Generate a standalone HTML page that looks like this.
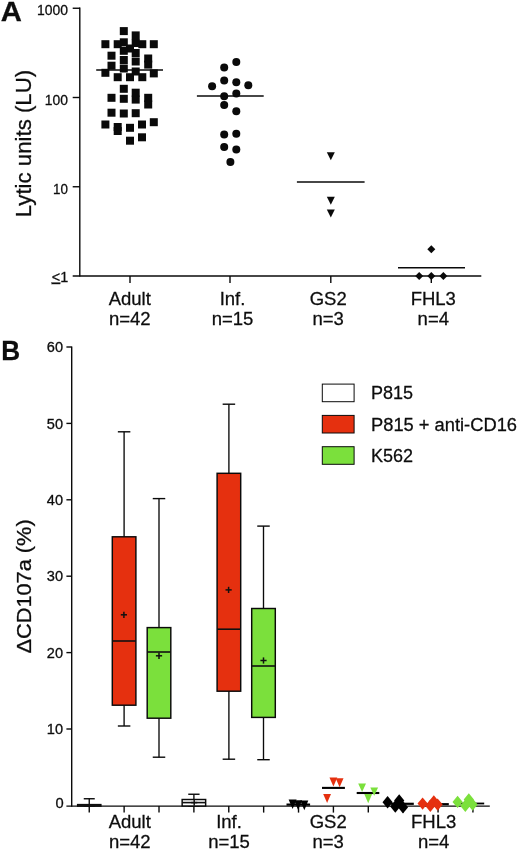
<!DOCTYPE html>
<html lang="en"><head><meta charset="utf-8"><title>Figure</title>
<style>
html,body{margin:0;padding:0;background:#fff;}
svg{display:block;font-family:"Liberation Sans", Arial, Helvetica, sans-serif;fill:#0d0d0d;will-change:transform;}
text{stroke:#0d0d0d;stroke-width:0.28px;}
</style></head>
<body>
<svg width="520" height="852" viewBox="0 0 520 852">
<rect x="0" y="0" width="520" height="852" fill="#ffffff"/>
<text transform="translate(0.7,21.4) scale(1.06,1)" font-size="27.6" font-weight="bold">A</text>
<line x1="79.8" y1="7.6" x2="79.8" y2="276.6" stroke="#0a0a0a" stroke-width="1.4"/>
<line x1="72.7" y1="276.0" x2="481.3" y2="276.0" stroke="#0a0a0a" stroke-width="1.4"/>
<line x1="72.7" y1="8.25" x2="80" y2="8.25" stroke="#0a0a0a" stroke-width="1.4"/>
<line x1="72.7" y1="97.5" x2="80" y2="97.5" stroke="#0a0a0a" stroke-width="1.4"/>
<line x1="72.7" y1="186.75" x2="80" y2="186.75" stroke="#0a0a0a" stroke-width="1.4"/>
<line x1="130" y1="276.0" x2="130" y2="283.0" stroke="#0a0a0a" stroke-width="1.4"/>
<line x1="230" y1="276.0" x2="230" y2="283.0" stroke="#0a0a0a" stroke-width="1.4"/>
<line x1="330.8" y1="276.0" x2="330.8" y2="283.0" stroke="#0a0a0a" stroke-width="1.4"/>
<line x1="431.3" y1="276.0" x2="431.3" y2="283.0" stroke="#0a0a0a" stroke-width="1.4"/>
<text x="68.0" y="15.2" font-size="14.4" text-anchor="end" font-weight="normal" textLength="31.0" lengthAdjust="spacingAndGlyphs">1000</text>
<text x="68.0" y="105.1" font-size="14.4" text-anchor="end" font-weight="normal" textLength="23.2" lengthAdjust="spacingAndGlyphs">100</text>
<text x="68.0" y="193.5" font-size="14.4" text-anchor="end" font-weight="normal" textLength="14.9" lengthAdjust="spacingAndGlyphs">10</text>
<text x="68.2" y="281.6" font-size="14.4" text-anchor="end"><tspan text-decoration="underline">&lt;</tspan>1</text>
<text transform="translate(30.6,217.2) rotate(-90)" font-size="21.3" textLength="147.3" lengthAdjust="spacingAndGlyphs">Lytic units (LU)</text>
<text x="129.8" y="305.0" font-size="18.5" text-anchor="middle" font-weight="normal">Adult</text>
<text x="129.8" y="325.3" font-size="18.5" text-anchor="middle" font-weight="normal">n=42</text>
<text x="232.5" y="305.0" font-size="18.5" text-anchor="middle" font-weight="normal">Inf.</text>
<text x="232.5" y="325.3" font-size="18.5" text-anchor="middle" font-weight="normal">n=15</text>
<text x="328.2" y="305.0" font-size="18.5" text-anchor="middle" font-weight="normal">GS2</text>
<text x="328.2" y="325.3" font-size="18.5" text-anchor="middle" font-weight="normal">n=3</text>
<text x="433.3" y="305.0" font-size="18.5" text-anchor="middle" font-weight="normal">FHL3</text>
<text x="433.3" y="325.3" font-size="18.5" text-anchor="middle" font-weight="normal">n=4</text>
<rect x="119.80" y="27.10" width="8" height="8" fill="#0a0a0a"/>
<rect x="131.70" y="31.40" width="8" height="8" fill="#0a0a0a"/>
<rect x="131.70" y="39.00" width="8" height="8" fill="#0a0a0a"/>
<rect x="101.40" y="40.20" width="8" height="8" fill="#0a0a0a"/>
<rect x="113.70" y="40.20" width="8" height="8" fill="#0a0a0a"/>
<rect x="119.80" y="38.30" width="8" height="8" fill="#0a0a0a"/>
<rect x="138.30" y="40.20" width="8" height="8" fill="#0a0a0a"/>
<rect x="149.80" y="40.20" width="8" height="8" fill="#0a0a0a"/>
<rect x="126.00" y="44.50" width="8" height="8" fill="#0a0a0a"/>
<rect x="119.80" y="46.80" width="8" height="8" fill="#0a0a0a"/>
<rect x="131.70" y="49.00" width="8" height="8" fill="#0a0a0a"/>
<rect x="107.50" y="51.70" width="8" height="8" fill="#0a0a0a"/>
<rect x="144.20" y="54.50" width="8" height="8" fill="#0a0a0a"/>
<rect x="119.80" y="56.00" width="8" height="8" fill="#0a0a0a"/>
<rect x="131.70" y="57.50" width="8" height="8" fill="#0a0a0a"/>
<rect x="107.50" y="61.70" width="8" height="8" fill="#0a0a0a"/>
<rect x="144.20" y="60.60" width="8" height="8" fill="#0a0a0a"/>
<rect x="119.80" y="64.50" width="8" height="8" fill="#0a0a0a"/>
<rect x="131.70" y="67.50" width="8" height="8" fill="#0a0a0a"/>
<rect x="101.40" y="68.80" width="8" height="8" fill="#0a0a0a"/>
<rect x="149.80" y="69.40" width="8" height="8" fill="#0a0a0a"/>
<rect x="113.70" y="73.20" width="8" height="8" fill="#0a0a0a"/>
<rect x="126.00" y="73.20" width="8" height="8" fill="#0a0a0a"/>
<rect x="138.30" y="73.20" width="8" height="8" fill="#0a0a0a"/>
<rect x="119.80" y="84.80" width="8" height="8" fill="#0a0a0a"/>
<rect x="131.70" y="88.70" width="8" height="8" fill="#0a0a0a"/>
<rect x="131.70" y="95.60" width="8" height="8" fill="#0a0a0a"/>
<rect x="107.50" y="93.80" width="8" height="8" fill="#0a0a0a"/>
<rect x="119.80" y="94.80" width="8" height="8" fill="#0a0a0a"/>
<rect x="144.20" y="93.80" width="8" height="8" fill="#0a0a0a"/>
<rect x="144.20" y="100.50" width="8" height="8" fill="#0a0a0a"/>
<rect x="107.50" y="108.70" width="8" height="8" fill="#0a0a0a"/>
<rect x="119.80" y="109.50" width="8" height="8" fill="#0a0a0a"/>
<rect x="131.70" y="109.20" width="8" height="8" fill="#0a0a0a"/>
<rect x="101.40" y="120.50" width="8" height="8" fill="#0a0a0a"/>
<rect x="113.70" y="123.00" width="8" height="8" fill="#0a0a0a"/>
<rect x="113.70" y="127.00" width="8" height="8" fill="#0a0a0a"/>
<rect x="126.00" y="123.80" width="8" height="8" fill="#0a0a0a"/>
<rect x="138.00" y="120.50" width="8" height="8" fill="#0a0a0a"/>
<rect x="149.80" y="118.20" width="8" height="8" fill="#0a0a0a"/>
<rect x="126.00" y="136.70" width="8" height="8" fill="#0a0a0a"/>
<rect x="138.00" y="133.30" width="8" height="8" fill="#0a0a0a"/>
<line x1="96.2" y1="70" x2="163" y2="70" stroke="#0a0a0a" stroke-width="1.4"/>
<circle cx="236.3" cy="62.1" r="4" fill="#0a0a0a"/>
<circle cx="224.2" cy="67.5" r="4" fill="#0a0a0a"/>
<circle cx="224.2" cy="80.4" r="4" fill="#0a0a0a"/>
<circle cx="236.3" cy="82.3" r="4" fill="#0a0a0a"/>
<circle cx="212.1" cy="86.2" r="4" fill="#0a0a0a"/>
<circle cx="248.3" cy="85.2" r="4" fill="#0a0a0a"/>
<circle cx="236.3" cy="93.5" r="4" fill="#0a0a0a"/>
<circle cx="224.2" cy="96.3" r="4" fill="#0a0a0a"/>
<circle cx="224.2" cy="105" r="4" fill="#0a0a0a"/>
<circle cx="236.3" cy="111.2" r="4" fill="#0a0a0a"/>
<circle cx="224.2" cy="134.6" r="4" fill="#0a0a0a"/>
<circle cx="236.3" cy="133.7" r="4" fill="#0a0a0a"/>
<circle cx="224.2" cy="147.1" r="4" fill="#0a0a0a"/>
<circle cx="236.3" cy="149.6" r="4" fill="#0a0a0a"/>
<circle cx="230.4" cy="162.1" r="4" fill="#0a0a0a"/>
<line x1="196.9" y1="96" x2="263.7" y2="96" stroke="#0a0a0a" stroke-width="1.4"/>
<polygon points="326.80,152.30 334.80,152.30 330.80,160.30" fill="#0a0a0a"/>
<polygon points="326.80,196.70 334.80,196.70 330.80,204.70" fill="#0a0a0a"/>
<polygon points="326.80,209.40 334.80,209.40 330.80,217.40" fill="#0a0a0a"/>
<line x1="296.9" y1="182" x2="364.6" y2="182" stroke="#0a0a0a" stroke-width="1.4"/>
<polygon points="427.30,249.30 431.30,245.30 435.30,249.30 431.30,253.30" fill="#0a0a0a"/>
<polygon points="415.20,275.90 419.20,271.90 423.20,275.90 419.20,279.90" fill="#0a0a0a"/>
<polygon points="427.30,275.90 431.30,271.90 435.30,275.90 431.30,279.90" fill="#0a0a0a"/>
<polygon points="439.40,275.90 443.40,271.90 447.40,275.90 443.40,279.90" fill="#0a0a0a"/>
<line x1="398" y1="267.7" x2="465" y2="267.7" stroke="#0a0a0a" stroke-width="1.4"/>
<text transform="translate(1.2,360.4) scale(0.97,1)" font-size="27.0" font-weight="bold">B</text>
<line x1="71.7" y1="346.4" x2="71.7" y2="806.7" stroke="#0a0a0a" stroke-width="1.4"/>
<line x1="66.4" y1="806.1" x2="489.8" y2="806.1" stroke="#0a0a0a" stroke-width="1.4"/>
<line x1="66.4" y1="347.0" x2="71.7" y2="347.0" stroke="#0a0a0a" stroke-width="1.4"/>
<text x="63" y="352.1" font-size="14" text-anchor="end" font-weight="normal" textLength="16.2" lengthAdjust="spacingAndGlyphs">60</text>
<line x1="66.4" y1="423.4" x2="71.7" y2="423.4" stroke="#0a0a0a" stroke-width="1.4"/>
<text x="63" y="428.5" font-size="14" text-anchor="end" font-weight="normal" textLength="16.2" lengthAdjust="spacingAndGlyphs">50</text>
<line x1="66.4" y1="499.8" x2="71.7" y2="499.8" stroke="#0a0a0a" stroke-width="1.4"/>
<text x="63" y="504.90000000000003" font-size="14" text-anchor="end" font-weight="normal" textLength="16.2" lengthAdjust="spacingAndGlyphs">40</text>
<line x1="66.4" y1="576.2" x2="71.7" y2="576.2" stroke="#0a0a0a" stroke-width="1.4"/>
<text x="63" y="581.3000000000001" font-size="14" text-anchor="end" font-weight="normal" textLength="16.2" lengthAdjust="spacingAndGlyphs">30</text>
<line x1="66.4" y1="652.6" x2="71.7" y2="652.6" stroke="#0a0a0a" stroke-width="1.4"/>
<text x="63" y="657.7" font-size="14" text-anchor="end" font-weight="normal" textLength="16.2" lengthAdjust="spacingAndGlyphs">20</text>
<line x1="66.4" y1="729.0" x2="71.7" y2="729.0" stroke="#0a0a0a" stroke-width="1.4"/>
<text x="63" y="734.1" font-size="14" text-anchor="end" font-weight="normal" textLength="16.2" lengthAdjust="spacingAndGlyphs">10</text>
<text x="63.6" y="808.4" font-size="14" text-anchor="end" font-weight="normal" textLength="8.2" lengthAdjust="spacingAndGlyphs">0</text>
<line x1="89.25" y1="806.1" x2="89.25" y2="812.6" stroke="#0a0a0a" stroke-width="1.4"/>
<line x1="124.13" y1="806.1" x2="124.13" y2="812.6" stroke="#0a0a0a" stroke-width="1.4"/>
<line x1="159.01" y1="806.1" x2="159.01" y2="812.6" stroke="#0a0a0a" stroke-width="1.4"/>
<line x1="193.89000000000001" y1="806.1" x2="193.89000000000001" y2="812.6" stroke="#0a0a0a" stroke-width="1.4"/>
<line x1="228.77" y1="806.1" x2="228.77" y2="812.6" stroke="#0a0a0a" stroke-width="1.4"/>
<line x1="263.65" y1="806.1" x2="263.65" y2="812.6" stroke="#0a0a0a" stroke-width="1.4"/>
<line x1="298.53000000000003" y1="806.1" x2="298.53000000000003" y2="812.6" stroke="#0a0a0a" stroke-width="1.4"/>
<line x1="333.41" y1="806.1" x2="333.41" y2="812.6" stroke="#0a0a0a" stroke-width="1.4"/>
<line x1="368.29" y1="806.1" x2="368.29" y2="812.6" stroke="#0a0a0a" stroke-width="1.4"/>
<line x1="403.17" y1="806.1" x2="403.17" y2="812.6" stroke="#0a0a0a" stroke-width="1.4"/>
<line x1="438.05" y1="806.1" x2="438.05" y2="812.6" stroke="#0a0a0a" stroke-width="1.4"/>
<line x1="472.93" y1="806.1" x2="472.93" y2="812.6" stroke="#0a0a0a" stroke-width="1.4"/>
<text transform="translate(30.6,653.6) rotate(-90)" font-size="20.4" textLength="134.3" lengthAdjust="spacingAndGlyphs">ΔCD107a (%)</text>
<text x="129.8" y="828.0" font-size="18.5" text-anchor="middle" font-weight="normal">Adult</text>
<text x="129.8" y="847.9" font-size="18.5" text-anchor="middle" font-weight="normal">n=42</text>
<text x="229" y="828.0" font-size="18.5" text-anchor="middle" font-weight="normal">Inf.</text>
<text x="229" y="847.9" font-size="18.5" text-anchor="middle" font-weight="normal">n=15</text>
<text x="328.2" y="828.0" font-size="18.5" text-anchor="middle" font-weight="normal">GS2</text>
<text x="328.2" y="847.9" font-size="18.5" text-anchor="middle" font-weight="normal">n=3</text>
<text x="433.7" y="828.0" font-size="18.5" text-anchor="middle" font-weight="normal">FHL3</text>
<text x="433.7" y="847.9" font-size="18.5" text-anchor="middle" font-weight="normal">n=4</text>
<rect x="322.3" y="384.1" width="31.8" height="17.6" fill="#fff" stroke="#0a0a0a" stroke-width="1"/>
<rect x="322.3" y="415.4" width="31.8" height="17.6" fill="#e5300f" stroke="#0a0a0a" stroke-width="1"/>
<rect x="322.3" y="446.7" width="31.8" height="17.6" fill="#7be03c" stroke="#0a0a0a" stroke-width="1"/>
<text x="371" y="399.4" font-size="18" text-anchor="start" font-weight="normal">P815</text>
<text x="371" y="430.7" font-size="18" text-anchor="start" font-weight="normal" textLength="146" lengthAdjust="spacingAndGlyphs">P815 + anti-CD16</text>
<text x="371" y="462" font-size="18" text-anchor="start" font-weight="normal">K562</text>
<line x1="89.25" y1="798.75" x2="89.25" y2="806.1" stroke="#0a0a0a" stroke-width="1.35"/>
<line x1="83.75" y1="798.75" x2="94.75" y2="798.75" stroke="#0a0a0a" stroke-width="1.4"/>
<line x1="83.75" y1="806.1" x2="94.75" y2="806.1" stroke="#0a0a0a" stroke-width="1.4"/>
<rect x="77.65" y="804.6" width="23.2" height="1.50" fill="#fff" stroke="#0a0a0a" stroke-width="1.45"/>
<line x1="77.65" y1="805.2" x2="100.85" y2="805.2" stroke="#111" stroke-width="1.6"/>
<line x1="124.1" y1="431.8" x2="124.1" y2="726.0" stroke="#0a0a0a" stroke-width="1.35"/>
<line x1="117.85" y1="431.8" x2="130.35" y2="431.8" stroke="#0a0a0a" stroke-width="1.4"/>
<line x1="117.85" y1="726.0" x2="130.35" y2="726.0" stroke="#0a0a0a" stroke-width="1.4"/>
<rect x="112.30" y="536.8" width="23.6" height="168.40" fill="#e5300f" stroke="#0a0a0a" stroke-width="1.45"/>
<line x1="112.3" y1="641.0" x2="135.9" y2="641.0" stroke="#111" stroke-width="1.6"/>
<line x1="120.80000000000001" y1="614.8" x2="127.0" y2="614.8" stroke="#111" stroke-width="1.5"/>
<line x1="123.9" y1="611.6999999999999" x2="123.9" y2="617.9" stroke="#111" stroke-width="1.5"/>
<line x1="159.0" y1="498.6" x2="159.0" y2="757.2" stroke="#0a0a0a" stroke-width="1.35"/>
<line x1="152.75" y1="498.6" x2="165.25" y2="498.6" stroke="#0a0a0a" stroke-width="1.4"/>
<line x1="152.75" y1="757.2" x2="165.25" y2="757.2" stroke="#0a0a0a" stroke-width="1.4"/>
<rect x="147.20" y="627.6" width="23.6" height="90.60" fill="#7be03c" stroke="#0a0a0a" stroke-width="1.45"/>
<line x1="147.2" y1="652.0" x2="170.8" y2="652.0" stroke="#111" stroke-width="1.6"/>
<line x1="155.9" y1="655.8" x2="162.1" y2="655.8" stroke="#111" stroke-width="1.5"/>
<line x1="159.0" y1="652.6999999999999" x2="159.0" y2="658.9" stroke="#111" stroke-width="1.5"/>
<line x1="193.9" y1="794.25" x2="193.9" y2="806.0" stroke="#0a0a0a" stroke-width="1.35"/>
<line x1="188.25" y1="794.25" x2="199.55" y2="794.25" stroke="#0a0a0a" stroke-width="1.4"/>
<line x1="188.25" y1="806.0" x2="199.55" y2="806.0" stroke="#0a0a0a" stroke-width="1.4"/>
<rect x="182.15" y="799.5" width="23.5" height="6.50" fill="#fff" stroke="#0a0a0a" stroke-width="1.45"/>
<line x1="182.15" y1="802.6" x2="205.65" y2="802.6" stroke="#111" stroke-width="1.6"/>
<line x1="191.1" y1="802.6" x2="197.29999999999998" y2="802.6" stroke="#111" stroke-width="1.5"/>
<line x1="194.2" y1="799.5" x2="194.2" y2="805.7" stroke="#111" stroke-width="1.5"/>
<line x1="228.9" y1="404.2" x2="228.9" y2="759.2" stroke="#0a0a0a" stroke-width="1.35"/>
<line x1="222.65" y1="404.2" x2="235.15" y2="404.2" stroke="#0a0a0a" stroke-width="1.4"/>
<line x1="222.65" y1="759.2" x2="235.15" y2="759.2" stroke="#0a0a0a" stroke-width="1.4"/>
<rect x="217.10" y="473.3" width="23.6" height="217.90" fill="#e5300f" stroke="#0a0a0a" stroke-width="1.45"/>
<line x1="217.1" y1="629.2" x2="240.70000000000002" y2="629.2" stroke="#111" stroke-width="1.6"/>
<line x1="225.5" y1="589.9" x2="231.7" y2="589.9" stroke="#111" stroke-width="1.5"/>
<line x1="228.6" y1="586.8" x2="228.6" y2="593.0" stroke="#111" stroke-width="1.5"/>
<line x1="263.5" y1="526.1" x2="263.5" y2="759.7" stroke="#0a0a0a" stroke-width="1.35"/>
<line x1="257.25" y1="526.1" x2="269.75" y2="526.1" stroke="#0a0a0a" stroke-width="1.4"/>
<line x1="257.25" y1="759.7" x2="269.75" y2="759.7" stroke="#0a0a0a" stroke-width="1.4"/>
<rect x="251.70" y="608.5" width="23.6" height="108.90" fill="#7be03c" stroke="#0a0a0a" stroke-width="1.45"/>
<line x1="251.7" y1="666.0" x2="275.3" y2="666.0" stroke="#111" stroke-width="1.6"/>
<line x1="260.4" y1="660.5" x2="266.6" y2="660.5" stroke="#111" stroke-width="1.5"/>
<line x1="263.5" y1="657.4" x2="263.5" y2="663.6" stroke="#111" stroke-width="1.5"/>
<line x1="286.5" y1="804.6" x2="310.1" y2="804.6" stroke="#000" stroke-width="2.2"/>
<polygon points="288.60,799.60 296.60,799.60 292.60,809.00" fill="#000"/>
<polygon points="294.10,800.20 302.10,800.20 298.10,810.00" fill="#000"/>
<polygon points="300.30,800.40 308.30,800.40 304.30,810.20" fill="#000"/>
<line x1="322" y1="787.9" x2="344.9" y2="787.9" stroke="#000" stroke-width="2.1"/>
<polygon points="329.50,777.60 337.30,777.60 333.40,786.40" fill="#e5300f"/>
<polygon points="335.70,778.30 343.50,778.30 339.60,787.20" fill="#e5300f"/>
<polygon points="323.20,794.00 331.00,794.00 327.10,803.00" fill="#e5300f"/>
<line x1="356.7" y1="793.0" x2="379.3" y2="793.0" stroke="#000" stroke-width="2.1"/>
<polygon points="358.20,783.40 366.00,783.40 362.10,792.00" fill="#7be03c"/>
<polygon points="370.30,787.40 378.10,787.40 374.20,795.80" fill="#7be03c"/>
<polygon points="364.30,794.00 372.10,794.00 368.20,803.20" fill="#7be03c"/>
<line x1="390.5" y1="803.8" x2="413.8" y2="803.8" stroke="#000" stroke-width="2.2"/>
<line x1="425.3" y1="804.2" x2="448.8" y2="804.2" stroke="#000" stroke-width="2.2"/>
<line x1="460" y1="803.5" x2="484.2" y2="803.5" stroke="#000" stroke-width="1.8"/>
<polygon points="382.50,802.20 387.60,795.90 392.70,802.20 387.60,808.50" fill="#000"/>
<polygon points="390.20,806.50 395.30,800.20 400.40,806.50 395.30,812.80" fill="#000"/>
<polygon points="394.10,800.60 399.20,794.30 404.30,800.60 399.20,806.90" fill="#000"/>
<polygon points="397.90,807.30 403.00,801.00 408.10,807.30 403.00,813.60" fill="#000"/>
<polygon points="417.50,803.60 422.60,797.40 427.70,803.60 422.60,809.80" fill="#e5300f"/>
<polygon points="425.20,805.70 430.30,799.50 435.40,805.70 430.30,811.90" fill="#e5300f"/>
<polygon points="428.70,801.40 433.80,795.20 438.90,801.40 433.80,807.60" fill="#e5300f"/>
<polygon points="432.50,804.60 437.60,798.40 442.70,804.60 437.60,810.80" fill="#e5300f"/>
<polygon points="452.50,801.90 457.60,795.70 462.70,801.90 457.60,808.10" fill="#7be03c"/>
<polygon points="460.20,805.70 465.30,799.50 470.40,805.70 465.30,811.90" fill="#7be03c"/>
<polygon points="463.70,799.50 468.80,793.30 473.90,799.50 468.80,805.70" fill="#7be03c"/>
<polygon points="467.50,804.60 472.60,798.40 477.70,804.60 472.60,810.80" fill="#7be03c"/>
</svg>
</body></html>
